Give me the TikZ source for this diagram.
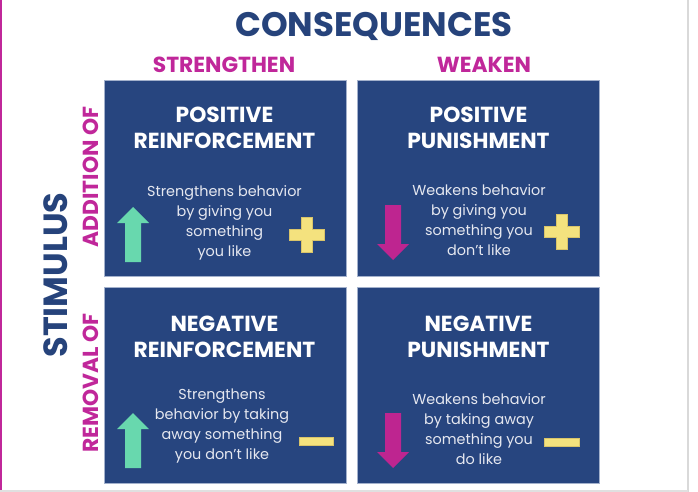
\documentclass[tikz,border=0pt]{standalone}
\usepackage{fontspec}
\setmainfont{Poppins}
\usepackage{tikz}
\usetikzlibrary{positioning}

\definecolor{navy}{HTML}{27457F}
\definecolor{headnavy}{HTML}{26437B}
\definecolor{boxedge}{HTML}{A3B1CC}
\definecolor{plum}{HTML}{C0279A}
\definecolor{mint}{HTML}{68D8AE}
\definecolor{pinkarrow}{HTML}{BE2590}
\definecolor{signyellow}{HTML}{F4E27E}
\definecolor{signedge}{HTML}{D9C46A}
\definecolor{bodytext}{HTML}{E6E8F0}

\begin{document}
\begin{tikzpicture}[x=1pt,y=-1pt,
  quad/.style={draw=boxedge,line width=0.8pt,fill=navy,minimum width=242pt,minimum height=196pt,inner sep=0pt,anchor=north west},
  qtitle/.style={text=white,font=\bfseries\fontsize{21.8}{26}\selectfont,align=center},
  qbody/.style={text=bodytext,font=\fontsize{14.4}{20}\selectfont,align=center},
  axislabel/.style={text=plum,font=\bfseries\fontsize{21.8}{22}\selectfont},
  upshape/.style={fill=mint},
  downshape/.style={fill=pinkarrow},
  signshape/.style={fill=signyellow,draw=signedge,line width=0.4pt}]
\useasboundingbox (0,0) rectangle (698,492);
\fill[white] (0,0) rectangle (698,492);
\draw[plum,line width=2pt] (1,0) -- (1,492);
\draw[black!15,line width=1.2pt] (688,0) -- (688,492);
\draw[black!12,line width=2.5pt] (0,491) -- (688,491);

% headings
\node[text=headnavy,font=\bfseries\fontsize{34}{34}\selectfont] (cons) at (374,26) {CONSEQUENCES};
\node[axislabel] (str) at (224,65) {STRENGTHEN};
\node[axislabel] (wk) at (484,65) {WEAKEN};
\node[text=headnavy,font=\bfseries\fontsize{33.5}{34}\selectfont,rotate=90] (stim) at (56,275) {STIMULUS};
\node[axislabel,rotate=90] (add) at (91,177) {ADDITION OF};
\node[axislabel,rotate=90] (rem) at (91,383) {REMOVAL OF};

% quadrants
\node[quad] (pr) at (104,80) {};
\node[quad] (pp) at (357,80) {};
\node[quad] (nr) at (104,287) {};
\node[quad] (np) at (357,287) {};

\node[qtitle] (prt) at (224.5,128) {POSITIVE\\REINFORCEMENT};
\node[qtitle] (ppt) at (478.5,128) {POSITIVE\\PUNISHMENT};
\node[qtitle] (nrt) at (224.5,337) {NEGATIVE\\REINFORCEMENT};
\node[qtitle] (npt) at (478.5,337) {NEGATIVE\\PUNISHMENT};

\node[qbody] (prb) at (224.5,223) {Strengthens behavior\\by giving you\\something\\you like};
\node[qbody] (ppb) at (479,220) {Weakens behavior\\by giving you\\something you\\don't like};
\node[qbody] (nrb) at (222,426.5) {Strengthens\\behavior by taking\\away something\\you don't like};
\node[qbody] (npb) at (479,429.5) {Weakens behavior\\by taking away\\something you\\do like};

% arrows
\fill[upshape,shift={(133,262)}] (-8,0) -- (-8,-39) -- (-16,-39) -- (0,-55) -- (16,-39) -- (8,-39) -- (8,0) -- cycle;
\fill[upshape,shift={(133,468)}] (-8,0) -- (-8,-39) -- (-16,-39) -- (0,-55) -- (16,-39) -- (8,-39) -- (8,0) -- cycle;
\fill[downshape,shift={(393,205)}] (-8,0) -- (-8,39) -- (-16,39) -- (0,55) -- (16,39) -- (8,39) -- (8,0) -- cycle;
\fill[downshape,shift={(393,413)}] (-8,0) -- (-8,39) -- (-16,39) -- (0,55) -- (16,39) -- (8,39) -- (8,0) -- cycle;

% plus and minus signs
\filldraw[signshape,shift={(306.5,234.5)}] (-5.5,-17.5) -- (5.5,-17.5) -- (5.5,-5.5) -- (17.5,-5.5) -- (17.5,5.5) -- (5.5,5.5) -- (5.5,17.5) -- (-5.5,17.5) -- (-5.5,5.5) -- (-17.5,5.5) -- (-17.5,-5.5) -- (-5.5,-5.5) -- cycle;
\filldraw[signshape,shift={(561.5,231.5)}] (-5.5,-17.5) -- (5.5,-17.5) -- (5.5,-5.5) -- (17.5,-5.5) -- (17.5,5.5) -- (5.5,5.5) -- (5.5,17.5) -- (-5.5,17.5) -- (-5.5,5.5) -- (-17.5,5.5) -- (-17.5,-5.5) -- (-5.5,-5.5) -- cycle;
\filldraw[signshape] (299,437) rectangle (333,445);
\filldraw[signshape] (544,438) rectangle (579,446);
\end{tikzpicture}
\end{document}
